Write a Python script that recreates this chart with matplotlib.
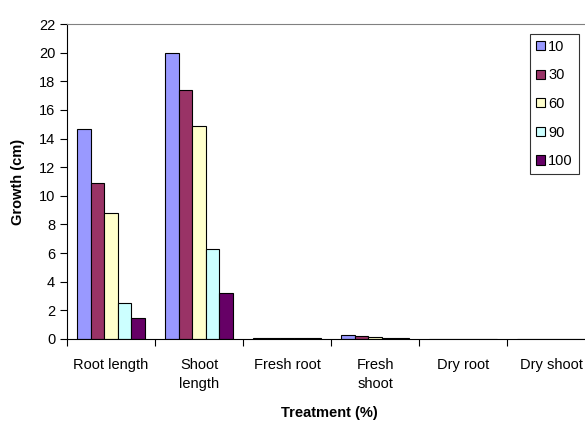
import matplotlib.pyplot as plt
import numpy as np

plt.rcParams['font.family'] = ['Liberation Sans', 'DejaVu Sans']

# Growth measurements per treatment level
categories = ["Root length", "Shoot\nlength", "Fresh root", "Fresh\nshoot", "Dry root", "Dry shoot"]
treatments = ["10", "30", "60", "90", "100"]
t10 = [14.7, 20.0, 0.08, 0.28, 0.01, 0.01]
t30 = [10.9, 17.4, 0.07, 0.18, 0.01, 0.01]
t60 = [8.8, 14.9, 0.06, 0.17, 0.01, 0.01]
t90 = [2.5, 6.3, 0.05, 0.07, 0.01, 0.01]
t100 = [1.5, 3.2, 0.04, 0.07, 0.01, 0.01]
series = [t10, t30, t60, t90, t100]
colors = ["#9999FF", "#993366", "#FFFFCC", "#CCFFFF", "#660066"]

fig = plt.figure(figsize=(5.85, 4.21), dpi=100)
ax = fig.add_axes([67/585, 82/421, 528/585, 315/421])

x = np.arange(len(categories))
w = 0.155
for i, (vals, c, lab) in enumerate(zip(series, colors, treatments)):
    ax.bar(x + (i - 2) * w, vals, w, color=c, edgecolor="black", linewidth=0.8, label=lab)

ax.set_xlim(-0.5, len(categories) - 0.5)
ax.set_ylim(0, 22)
ax.set_yticks(range(0, 23, 2))
ax.tick_params(axis='y', labelsize=10.5, length=5, width=0.8, direction='out')

ax.set_xticks(x)
ax.set_xticklabels(categories, fontsize=10.5, linespacing=1.45, va='top')
ax.set_xticks(np.arange(len(categories) + 1) - 0.5, minor=True)
ax.tick_params(axis='x', which='major', length=0, pad=14)
ax.tick_params(axis='x', which='minor', length=5, width=0.8, direction='out')

ax.spines['top'].set_color('#808080')
ax.spines['right'].set_visible(False)
ax.spines['left'].set_linewidth(0.8)
ax.spines['bottom'].set_linewidth(0.8)

ax.set_ylabel("Growth (cm)", fontsize=10.5, fontweight='bold', labelpad=10)
ax.set_xlabel("Treatment (%)", fontsize=10.5, fontweight='bold')
ax.xaxis.set_label_coords((329 - 67) / 528, -(406 - 339) / 315)

leg = ax.legend(loc='upper left', bbox_to_anchor=(530/585, 1 - 34/421),
                bbox_transform=fig.transFigure, fontsize=10.5, frameon=True,
                fancybox=False, handlelength=0.6, handleheight=0.6,
                handletextpad=0.25, labelspacing=1.0, borderpad=0.4,
                borderaxespad=0)
leg.get_frame().set_edgecolor('black')
leg.get_frame().set_linewidth(0.8)

fig.savefig("out.png", dpi=100)
